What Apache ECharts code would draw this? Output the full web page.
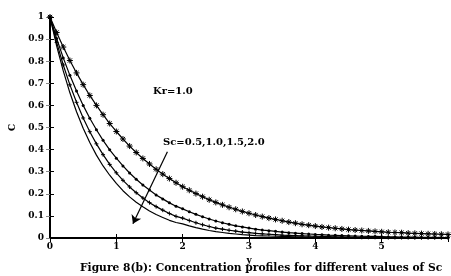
<!DOCTYPE html>
<html>
  <head>
    <meta charset="utf-8">
    <title>ECharts</title>
    <style type="text/css">
    html,body{margin:0;padding:0;background:#fff;}
    #main{width:451px;height:276px;}
    </style>
    <script src="https://cdn.jsdelivr.net/npm/echarts@6/dist/echarts.min.js"></script>
  </head>
  <body>
    <div id="main"></div>
    <script type="text/javascript">
      // y = 0, 0.1, ... 6.0
      var yValues = [];
      for (var i = 0; i <= 60; i++) { yValues.push(+(i / 10).toFixed(1)); }

      // Sc = 0.5 (stars)
      var sc05 = [1.000,0.930,0.864,0.803,0.747,0.694,0.645,0.600,0.558,0.518,
                  0.482,0.448,0.416,0.387,0.360,0.335,0.311,0.289,0.269,0.250,
                  0.232,0.216,0.201,0.187,0.173,0.161,0.150,0.139,0.130,0.120,
                  0.112,0.104,0.097,0.090,0.084,0.078,0.072,0.067,0.062,0.058,
                  0.054,0.050,0.047,0.044,0.041,0.038,0.036,0.034,0.032,0.030,
                  0.028,0.026,0.025,0.024,0.022,0.021,0.020,0.019,0.018,0.017,0.016];
      // Sc = 1.0 (dots)
      var sc10 = [1.000,0.903,0.815,0.736,0.665,0.600,0.542,0.490,0.442,0.399,
                  0.361,0.326,0.294,0.266,0.240,0.217,0.195,0.177,0.159,0.144,
                  0.132,0.119,0.107,0.096,0.086,0.077,0.069,0.062,0.055,0.050,
                  0.045,0.040,0.036,0.033,0.030,0.027,0.024,0.022,0.020,0.018,
                  0.016,0.015,0.013,0.012,0.011,0.010,0.009,0.008,0.007,0.007,
                  0.006,0.005,0.005,0.004,0.004,0.004,0.003,0.003,0.003,0.002,0.002];
      // Sc = 1.5 (plus)
      var sc15 = [1.000,0.885,0.783,0.693,0.614,0.543,0.481,0.426,0.377,0.333,
                  0.295,0.261,0.231,0.205,0.181,0.160,0.142,0.126,0.111,0.098,
                  0.090,0.079,0.069,0.060,0.052,0.045,0.040,0.035,0.031,0.027,
                  0.024,0.021,0.019,0.017,0.015,0.013,0.012,0.011,0.010,0.009,
                  0.008,0.007,0.006,0.005,0.005,0.004,0.004,0.003,0.003,0.003,
                  0.002,0.002,0.002,0.002,0.002,0.001,0.001,0.001,0.001,0.001,0.001];
      // Sc = 2.0 (plain)
      var sc20 = [1.000,0.869,0.756,0.657,0.571,0.497,0.432,0.375,0.326,0.284,
                  0.247,0.214,0.186,0.162,0.141,0.122,0.106,0.093,0.080,0.070,
                  0.064,0.055,0.047,0.040,0.034,0.029,0.025,0.021,0.018,0.015,
                  0.013,0.011,0.010,0.009,0.008,0.007,0.006,0.005,0.005,0.004,
                  0.004,0.003,0.003,0.002,0.002,0.002,0.002,0.001,0.001,0.001,
                  0.001,0.001,0.001,0.001,0.001,0.000,0.000,0.000,0.000,0.000,0.000];

      var xTicks = [0, 1, 2, 3, 4, 5];
      var yTicks = [0, 0.1, 0.2, 0.3, 0.4, 0.5, 0.6, 0.7, 0.8, 0.9, 1];

      function pairs(arr) {
        return yValues.map(function (x, i) { return [x, arr[i]]; });
      }

      var font = 'DejaVu Serif';
      var star = 'path://M0,5 L10,5 M5,0 L5,10 M1.5,1.5 L8.5,8.5 M8.5,1.5 L1.5,8.5';
      var plus = 'path://M0,5 L10,5 M5,0 L5,10';
      var lbl = { fontFamily: font, fontWeight: 'bold', fontSize: 9, color: '#000' };

      var myChart = echarts.init(document.getElementById('main'));
      var option = {
        animation: false,
        grid: { left: 50, right: -3, top: 17, bottom: 38 },
        xAxis: [
          {
            type: 'value', min: 0, max: 6, interval: 1,
            name: 'y', nameLocation: 'middle', nameGap: 17,
            nameTextStyle: lbl,
            axisLine: { lineStyle: { color: '#000', width: 2 } },
            axisTick: { inside: true, length: 4, lineStyle: { color: '#000' } },
            axisLabel: Object.assign({ margin: 4, formatter: function (v) {
              return xTicks.indexOf(v) >= 0 ? String(v) : '';
            } }, lbl),
            splitLine: { show: false }
          },
          {
            type: 'value', min: 0, max: 6, interval: 1, position: 'top',
            axisLine: { lineStyle: { color: '#000', width: 2 } },
            axisTick: { inside: true, length: 4, lineStyle: { color: '#000' } },
            axisLabel: { show: false },
            splitLine: { show: false }
          }
        ],
        yAxis: [
          {
            type: 'value', min: 0, max: 1, interval: 0.1,
            name: 'C', nameLocation: 'middle', nameGap: 30, nameRotate: 90,
            nameTextStyle: lbl,
            axisLine: { lineStyle: { color: '#000', width: 2 } },
            axisTick: { inside: true, length: 4, lineStyle: { color: '#000' } },
            axisLabel: Object.assign({ margin: 6, formatter: function (v) {
              var t = Math.round(v * 10) / 10;
              return yTicks.indexOf(t) >= 0 ? String(t) : '';
            } }, lbl),
            splitLine: { show: false }
          },
          {
            type: 'value', min: 0, max: 1, interval: 0.1, position: 'right',
            axisLine: { lineStyle: { color: '#000', width: 1 } },
            axisTick: { inside: true, length: 4, lineStyle: { color: '#888' } },
            axisLabel: { show: false },
            splitLine: { show: false }
          }
        ],
        graphic: [
          { type: 'text', left: 153, top: 86, style: { text: 'Kr=1.0', font: 'bold 10px "DejaVu Serif"', fill: '#000' } },
          { type: 'text', left: 163, top: 137, style: { text: 'Sc=0.5,1.0,1.5,2.0', font: 'bold 10px "DejaVu Serif"', fill: '#000' } },
          { type: 'text', left: 80, top: 263, style: { text: 'Figure 8(b): Concentration profiles for different values of Sc', font: 'bold 10.7px "DejaVu Serif"', fill: '#000' } }
        ],
        series: [
          {
            name: 'Sc=0.5', type: 'line', data: pairs(sc05),
            symbol: star, symbolSize: 6, showSymbol: true,
            lineStyle: { color: '#000', width: 1.2 },
            itemStyle: { color: 'none', borderColor: '#000', borderWidth: 1 }
          },
          {
            name: 'Sc=1.0', type: 'line', data: pairs(sc10),
            symbol: 'circle', symbolSize: 3,
            lineStyle: { color: '#000', width: 1.2 },
            itemStyle: { color: '#000', borderWidth: 0 }
          },
          {
            name: 'Sc=1.5', type: 'line', data: pairs(sc15),
            symbol: plus, symbolSize: 4,
            lineStyle: { color: '#000', width: 1.2 },
            itemStyle: { color: 'none', borderColor: '#000', borderWidth: 1 }
          },
          {
            name: 'Sc=2.0', type: 'line', data: pairs(sc20),
            symbol: 'none',
            lineStyle: { color: '#000', width: 1.2 },
            markLine: {
              silent: true, symbol: ['none', 'arrow'], symbolSize: 8,
              label: { show: false },
              lineStyle: { color: '#000', width: 1.2, type: 'solid' },
              data: [[{ coord: [1.77, 0.39] }, { coord: [1.25, 0.065] }]]
            }
          }
        ]
      };
      myChart.setOption(option);
    </script>
  </body>
</html>
